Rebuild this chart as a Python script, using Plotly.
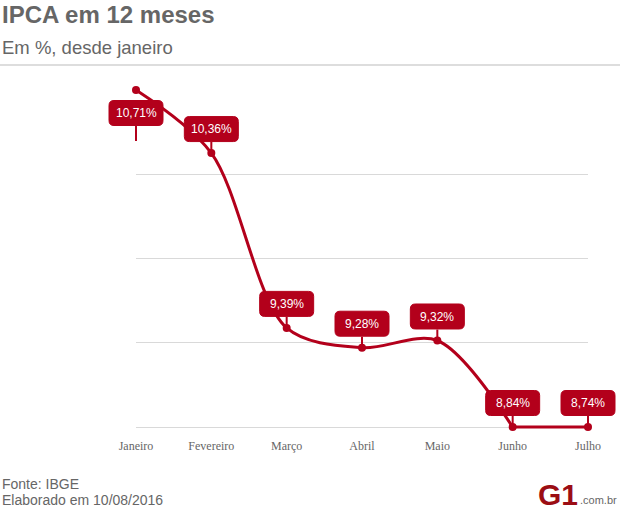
import numpy as np
import plotly.graph_objects as go

# ---- data ----
months = ["Janeiro", "Fevereiro", "Março", "Abril", "Maio", "Junho", "Julho"]
ipca = [10.71, 10.36, 9.39, 9.28, 9.32, 8.84, 8.74]
axis_min = 8.84  # lower bound of the value axis in the original chart

title_text = "IPCA em 12 meses"
subtitle_text = "Em %, desde janeiro"
source_text = "Fonte: IBGE"
made_text = "Elaborado em 10/08/2016"

# ---- style / layout ----
W, H = 620, 518
L, R = 136, 32
TOP_PX, BOT_PX = 90, 427      # pixel rows of axis max / axis min
PAD = 6                        # extra room so edge marks are not clipped
T, B = TOP_PX - PAD, H - BOT_PX - PAD
PW, PH = W - L - R, H - T - B
RED = "#b3001b"
GREY = "#666666"
LABEL_TOP_GAP = 51  # labels kept at least this far below the top of the value range
BOX_W, BOX_H, BOX_R = 54, 25, 5

ymax = max(ipca)
px_per_unit = (BOT_PX - TOP_PX) / (ymax - axis_min)
pad_units = PAD / px_per_unit
y_range = [axis_min - pad_units, ymax + pad_units]
x_range = [0, len(months) - 1]
y_plot = [max(v, axis_min) for v in ipca]


def px_x(p):
    return (p - L) / PW


def px_y(p):
    return (H - B - p) / PH


def round_rect(cx, cy, w, h, r):
    x0, x1 = cx - w / 2, cx + w / 2
    y0, y1 = cy - h / 2, cy + h / 2
    return (f"M{x0 + r},{y0} L{x1 - r},{y0} Q{x1},{y0} {x1},{y0 + r} "
            f"L{x1},{y1 - r} Q{x1},{y1} {x1 - r},{y1} L{x0 + r},{y1} "
            f"Q{x0},{y1} {x0},{y1 - r} L{x0},{y0 + r} Q{x0},{y0} {x0 + r},{y0} Z")


fig = go.Figure()
clamped = [v < axis_min for v in ipca]
first_clamped = clamped.index(True) if True in clamped else len(ipca)
split = max(first_clamped - 1, 0)
fig.add_trace(go.Scatter(
    x=months[:split + 1], y=y_plot[:split + 1], mode="lines",
    line=dict(color=RED, width=3, shape="spline", smoothing=0.9),
    cliponaxis=False, hoverinfo="skip", showlegend=False,
))
fig.add_trace(go.Scatter(
    x=months[split:], y=y_plot[split:], mode="lines",
    line=dict(color=RED, width=3),
    cliponaxis=False, hoverinfo="skip", showlegend=False,
))
fig.add_trace(go.Scatter(
    x=months, y=y_plot, mode="markers",
    marker=dict(color=RED, size=8),
    cliponaxis=False, hoverinfo="skip", showlegend=False,
))

annotations = []
shapes = [dict(type="line", xref="paper", yref="paper",
               x0=px_x(0), x1=px_x(W), y0=px_y(65), y1=px_y(65),
               line=dict(color="#dddddd", width=2))]
for i, (m, v, yp) in enumerate(zip(months, ipca, y_plot)):
    dist_top = (ymax - yp) * px_per_unit
    shift = -max(0.0, LABEL_TOP_GAP - dist_top)
    off = 24 if shift == 0 else 28
    annotations.append(dict(
        x=m, y=yp, xref="x", yref="y",
        text=f"{v:.2f}".replace(".", ",") + "%",
        showarrow=True, arrowhead=0, arrowwidth=2, arrowcolor=RED,
        ax=0, ay=-off, standoff=0, yshift=shift,
        font=dict(family="Liberation Sans, Arial", size=12, color="white"),
        bgcolor="rgba(0,0,0,0)", borderwidth=0, borderpad=6,
    ))
    # rounded label box, anchored to the same point (paper fraction of the axes)
    shapes.append(dict(
        type="path", xref="paper", yref="paper", xsizemode="pixel", ysizemode="pixel",
        xanchor=(i - x_range[0]) / (x_range[1] - x_range[0]),
        yanchor=(yp - y_range[0]) / (y_range[1] - y_range[0]),
        path=round_rect(0, off + shift, BOX_W, BOX_H, BOX_R),
        fillcolor=RED, line=dict(color=RED, width=1), layer="above",
    ))

annotations += [
    dict(x=px_x(0), y=px_y(15), xref="paper", yref="paper", xanchor="left", yanchor="middle",
         text=f"<b>{title_text}</b>", showarrow=False,
         font=dict(family="Liberation Sans, Arial", size=24, color=GREY)),
    dict(x=px_x(0), y=px_y(47), xref="paper", yref="paper", xanchor="left", yanchor="middle",
         text=subtitle_text, showarrow=False,
         font=dict(family="Liberation Sans, Arial", size=18.5, color=GREY)),
    dict(x=px_x(0), y=px_y(484), xref="paper", yref="paper", xanchor="left", yanchor="middle",
         text=source_text, showarrow=False,
         font=dict(family="Liberation Sans, Arial", size=14, color=GREY)),
    dict(x=px_x(0), y=px_y(500), xref="paper", yref="paper", xanchor="left", yanchor="middle",
         text=made_text, showarrow=False,
         font=dict(family="Liberation Sans, Arial", size=14, color=GREY)),
    dict(x=px_x(580), y=px_y(494), xref="paper", yref="paper", xanchor="right", yanchor="middle",
         text="<b>G1</b>", showarrow=False,
         font=dict(family="Liberation Sans, Arial", size=30, color="#9b0d14")),
    dict(x=px_x(578), y=px_y(508), xref="paper", yref="paper", xanchor="left", yanchor="bottom",
         text=".com.br", showarrow=False,
         font=dict(family="Liberation Sans, Arial", size=11, color=GREY)),
]

fig.update_layout(
    width=W, height=H, margin=dict(l=L, r=R, t=T, b=B),
    paper_bgcolor="white", plot_bgcolor="white",
    annotations=annotations, shapes=shapes,
    xaxis=dict(type="category", range=x_range, showgrid=False,
               showline=False, zeroline=False, ticks="outside", ticklen=2,
               tickcolor="rgba(0,0,0,0)",
               tickfont=dict(family="Liberation Serif, Times New Roman", size=12, color=GREY)),
    yaxis=dict(range=y_range, showticklabels=False,
               zeroline=False, showline=False, gridcolor="#d9d9d9", gridwidth=1,
               tickvals=list(np.linspace(axis_min, ymax, 5)[:-1])),
)

fig.write_html("out.html", config={"displayModeBar": False},
               post_script="document.body.style.margin='0';")
